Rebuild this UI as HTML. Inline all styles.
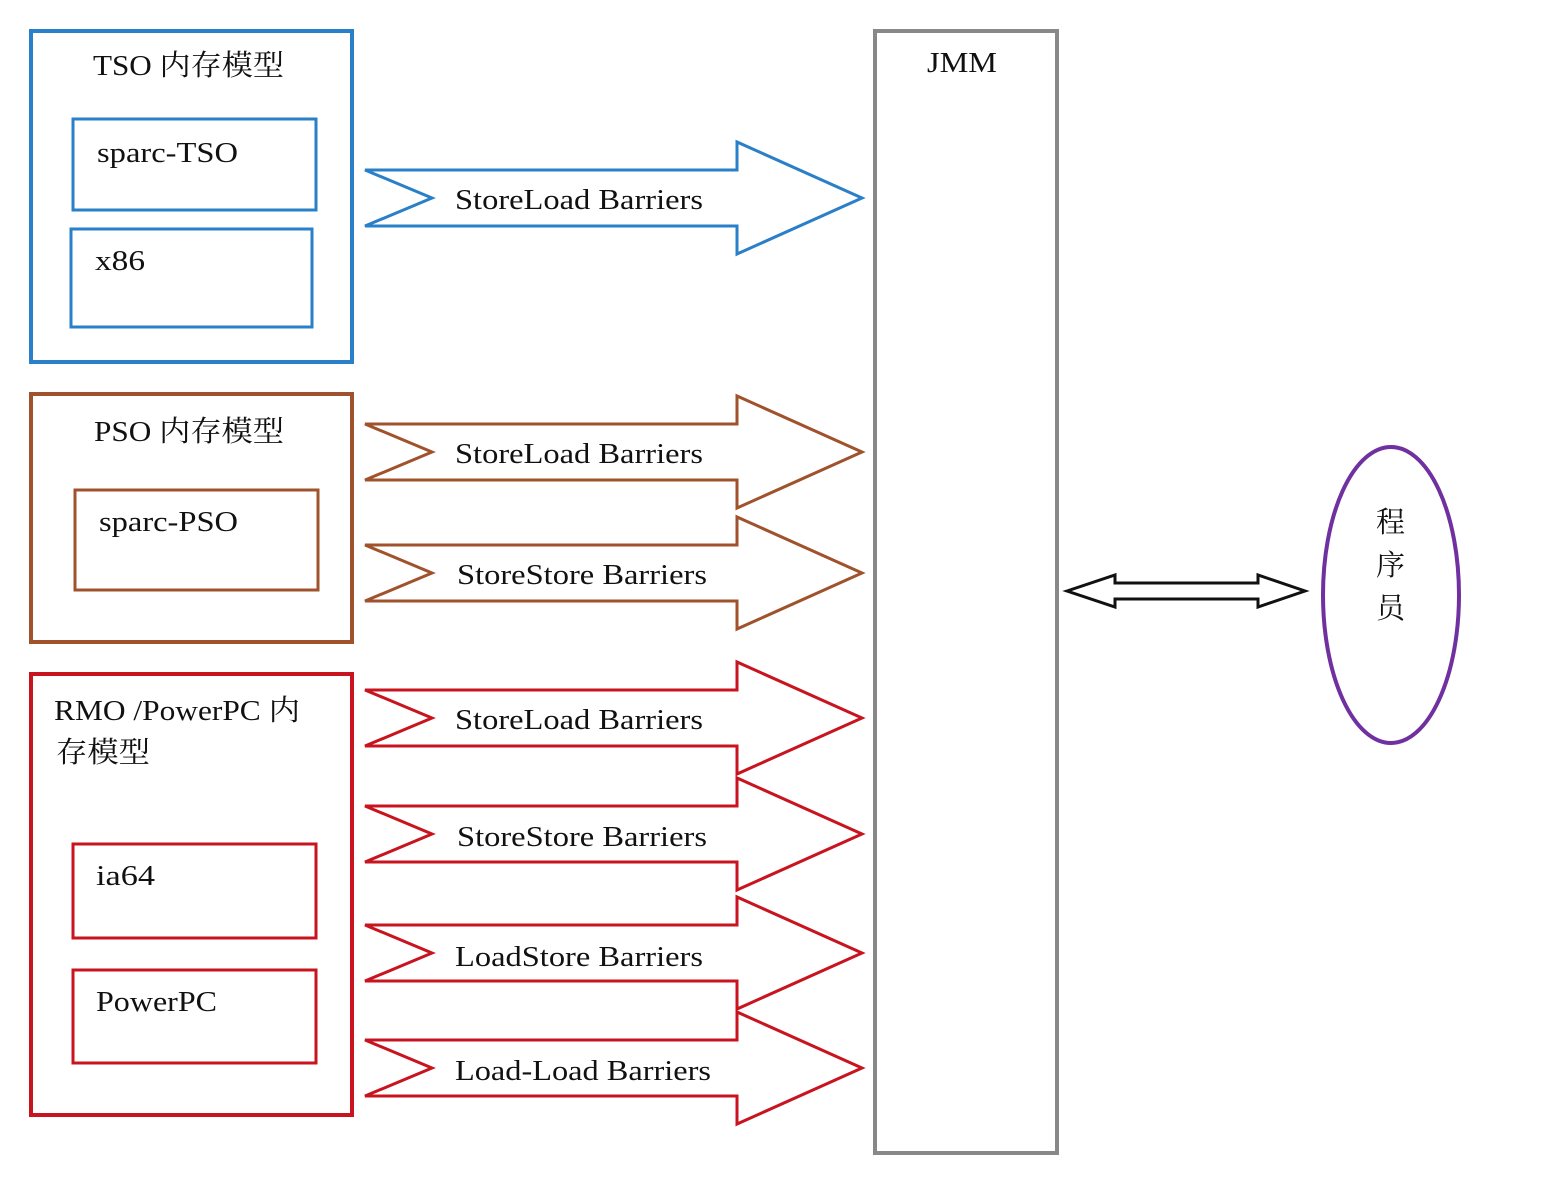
<!DOCTYPE html>
<html><head><meta charset="utf-8"><style>
html,body{margin:0;padding:0;background:#fff;}
svg text{font-family:"Liberation Serif","Noto Serif CJK SC","Noto Sans CJK SC",serif;font-size:29px;fill:#111;}
</style></head><body>
<svg width="1544" height="1190" viewBox="0 0 1544 1190" xmlns="http://www.w3.org/2000/svg">
<defs>
<path id="arr" d="M365,-28 L737,-28 L737,-56 L862,0 L737,56 L737,28 L365,28 L432,0 Z"/>
</defs>
<!-- TSO -->
<rect x="31" y="31" width="321" height="331" fill="none" stroke="#2a7fc9" stroke-width="4"/>
<text x="93" y="75" textLength="191" lengthAdjust="spacingAndGlyphs">TSO 内存模型</text>
<rect x="73" y="119" width="243" height="91" fill="none" stroke="#2a7fc9" stroke-width="3"/>
<text x="97" y="162" textLength="141" lengthAdjust="spacingAndGlyphs">sparc-TSO</text>
<rect x="71" y="229" width="241" height="98" fill="none" stroke="#2a7fc9" stroke-width="3"/>
<text x="95" y="270" textLength="50" lengthAdjust="spacingAndGlyphs">x86</text>
<!-- PSO -->
<rect x="31" y="394" width="321" height="248" fill="none" stroke="#a0522d" stroke-width="4"/>
<text x="94" y="441" textLength="190" lengthAdjust="spacingAndGlyphs">PSO 内存模型</text>
<rect x="75" y="490" width="243" height="100" fill="none" stroke="#a0522d" stroke-width="3"/>
<text x="99" y="531" textLength="139" lengthAdjust="spacingAndGlyphs">sparc-PSO</text>
<!-- RMO -->
<rect x="31" y="674" width="321" height="441" fill="none" stroke="#c8141e" stroke-width="4"/>
<text x="54" y="720" textLength="246" lengthAdjust="spacingAndGlyphs">RMO /PowerPC 内</text>
<text x="56" y="762" textLength="94" lengthAdjust="spacingAndGlyphs">存模型</text>
<rect x="73" y="844" width="243" height="94" fill="none" stroke="#c8141e" stroke-width="3"/>
<text x="96" y="885" textLength="59" lengthAdjust="spacingAndGlyphs">ia64</text>
<rect x="73" y="970" width="243" height="93" fill="none" stroke="#c8141e" stroke-width="3"/>
<text x="96" y="1011" textLength="121" lengthAdjust="spacingAndGlyphs">PowerPC</text>
<!-- arrows -->
<use href="#arr" transform="translate(0,198)" fill="#fff" stroke="#2a7fc9" stroke-width="3"/>
<text x="455" y="209" textLength="248" lengthAdjust="spacingAndGlyphs">StoreLoad Barriers</text>
<use href="#arr" transform="translate(0,452)" fill="#fff" stroke="#a0522d" stroke-width="3"/>
<text x="455" y="463" textLength="248" lengthAdjust="spacingAndGlyphs">StoreLoad Barriers</text>
<use href="#arr" transform="translate(0,573)" fill="#fff" stroke="#a0522d" stroke-width="3"/>
<text x="457" y="584" textLength="250" lengthAdjust="spacingAndGlyphs">StoreStore Barriers</text>
<use href="#arr" transform="translate(0,718)" fill="#fff" stroke="#c8141e" stroke-width="3"/>
<text x="455" y="729" textLength="248" lengthAdjust="spacingAndGlyphs">StoreLoad Barriers</text>
<use href="#arr" transform="translate(0,834)" fill="#fff" stroke="#c8141e" stroke-width="3"/>
<text x="457" y="846" textLength="250" lengthAdjust="spacingAndGlyphs">StoreStore Barriers</text>
<use href="#arr" transform="translate(0,953)" fill="#fff" stroke="#c8141e" stroke-width="3"/>
<text x="455" y="966" textLength="248" lengthAdjust="spacingAndGlyphs">LoadStore Barriers</text>
<use href="#arr" transform="translate(0,1068)" fill="#fff" stroke="#c8141e" stroke-width="3"/>
<text x="455" y="1080" textLength="256" lengthAdjust="spacingAndGlyphs">Load-Load Barriers</text>
<!-- JMM -->
<rect x="875" y="31" width="182" height="1122" fill="none" stroke="#888" stroke-width="4"/>
<text x="927" y="72" textLength="70" lengthAdjust="spacingAndGlyphs">JMM</text>
<!-- double arrow -->
<path d="M1067,591 L1115,575 L1115,583 L1258,583 L1258,575 L1305,591 L1258,607 L1258,599 L1115,599 L1115,607 Z" fill="#fff" stroke="#111" stroke-width="3"/>
<!-- ellipse -->
<ellipse cx="1391" cy="595" rx="68" ry="148" fill="none" stroke="#7030a0" stroke-width="4"/>
<text x="1376" y="532">程</text>
<text x="1376" y="575">序</text>
<text x="1376" y="618">员</text>
</svg>
</body></html>
